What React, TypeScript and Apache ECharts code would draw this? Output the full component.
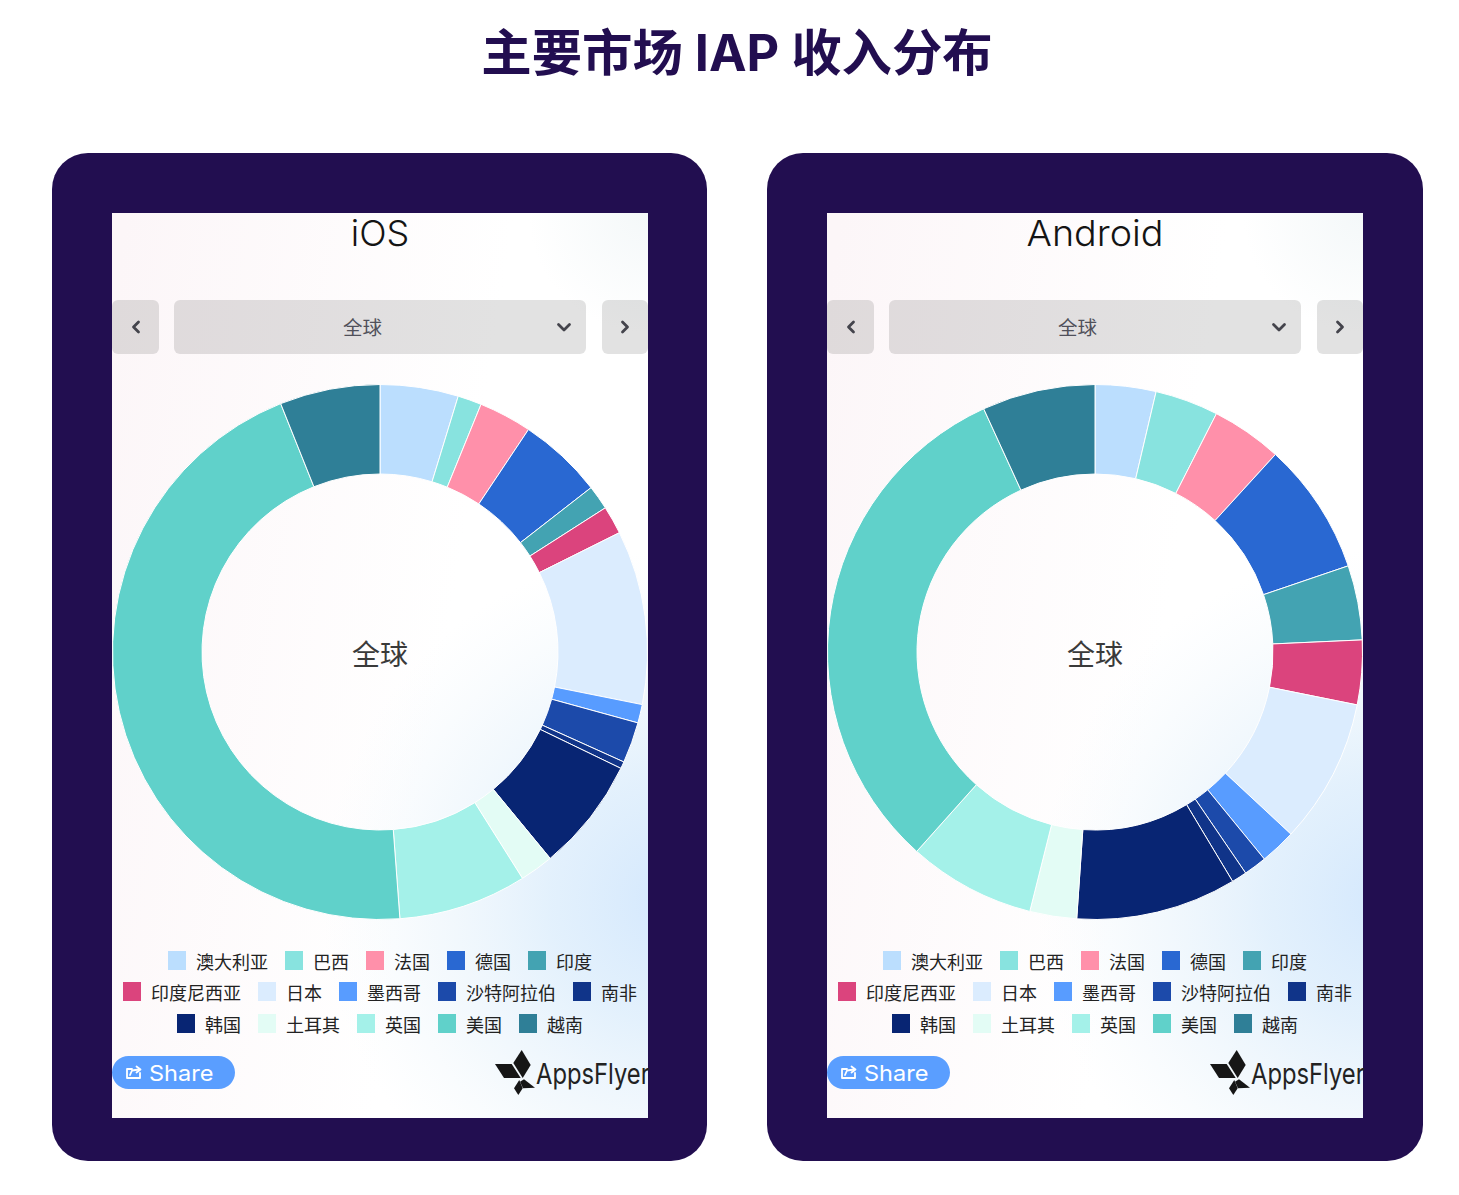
import React, { useEffect, useRef } from "react";
import * as echarts from "echarts";

const pageTitle = "主要市场 IAP 收入分布";
const markets = ["澳大利亚", "巴西", "法国", "德国", "印度", "印度尼西亚", "日本", "墨西哥", "沙特阿拉伯", "南非", "韩国", "土耳其", "英国", "美国", "越南"];
const colors = ["#bbdefe", "#88e3df", "#ff90aa", "#2968d2", "#43a3b2", "#db447d", "#dbecfe", "#589cff", "#1c4aaa", "#103489", "#082573", "#e3fcf5", "#a4f1e9", "#60d1ca", "#2f7f97"];
const iosValues = [4.72, 1.44, 3.2, 5.1, 1.47, 1.7, 10.5, 1.12, 2.47, 0.42, 6.86, 2.03, 7.75, 45.1, 6.05];
const androidValues = [3.67, 3.83, 4.28, 8.0, 4.5, 3.89, 8.75, 2.17, 1.39, 0.92, 9.69, 2.83, 7.69, 31.56, 6.83];
const legendRows = [markets.slice(0, 5), markets.slice(5, 10), markets.slice(10, 15)];
const centerLabel = "全球";

const FONT = "'Noto Sans CJK SC', sans-serif";
const LATIN = "Inter, 'Noto Sans CJK SC', sans-serif";
const INK = "#220e50";

function panelGraphics(dx: number, name: string, cx: number, nameScale: number) {
  const px = 112 + dx;
  const radial = (x: number, y: number, r: number, stops: [number, string][]) =>
    new echarts.graphic.RadialGradient(x, y, r, stops.map(([offset, color]) => ({ offset, color })), true);
  const panel = { x: px, y: 213, width: 536, height: 905 };
  const line = (points: number[][], stroke: string, lineWidth = 2.8) => ({
    type: "polyline",
    z: 3,
    shape: { points: points.map(([x, y]) => [x + dx, y]) },
    style: { fill: "none", stroke, lineWidth, lineCap: "round", lineJoin: "round" },
  });
  const kite = (points: number[][]) => ({
    type: "polygon",
    z: 3,
    shape: { points: points.map(([x, y]) => [x + dx, y]) },
    style: { fill: "#161616" },
  });
  const btn = (x: number, w: number) => ({
    type: "rect",
    z: 1,
    shape: { x: x + dx, y: 300, width: w, height: 54, r: 6 },
    style: { fill: "rgba(0,0,0,0.115)" },
  });
  const text = (x: number, y: number, t: string, fill: string, font: string, align: string, scaleX = 1) => ({
    type: "text",
    z: 3,
    x,
    y,
    scaleX,
    style: { x: 0, y: 0, text: t, fill, font, align, verticalAlign: "middle" },
  });
  return [
    { type: "rect", z: 0, shape: { x: 52 + dx, y: 153, width: dx ? 656 : 655, height: 1008, r: 36 }, style: { fill: INK } },
    {
      type: "rect",
      z: 0,
      shape: panel,
      style: {
        fill: new echarts.graphic.LinearGradient(
          px, 300, px + 380, 360,
          [{ offset: 0, color: "#fcf6f8" }, { offset: 1, color: "#ffffff" }],
          true
        ),
      },
    },
    { type: "rect", z: 0, shape: panel, style: { fill: radial(px + 536, 213, 120, [[0, "rgba(244,248,249,1)"], [1, "rgba(244,248,249,0)"]]) } },
    { type: "rect", z: 0, shape: panel, style: { fill: radial(px + 560, 900, 350, [[0, "rgba(212,232,253,1)"], [0.35, "rgba(222,238,252,0.85)"], [0.7, "rgba(232,243,251,0.45)"], [1, "rgba(240,247,252,0)"]]) } },
    btn(112, 47), btn(174, 412), btn(602, 46),
    line([[138.5, 322], [133.5, 327], [138.5, 332]], "#44444c"),
    line([[622.5, 322], [627.5, 327], [622.5, 332]], "#44444c"),
    line([[558.5, 324.5], [564, 330], [569.5, 324.5]], "#44444c"),
    text(362.5 + dx, 326, centerLabel, "#50505a", `19.5px ${FONT}`, "center"),
    text(cx, 233, name, "#141414", `300 36px ${LATIN}`, "center", nameScale),
    text(cx, 653, centerLabel, "#3a3a3a", `28px ${FONT}`, "center"),
    { type: "rect", z: 1, shape: { x: px, y: 1056, width: 123, height: 33, r: 16.5 }, style: { fill: "#5a9eff" } },
    line([[132, 1069], [127, 1069], [127, 1078], [140, 1078], [140, 1073]], "#ffffff", 1.8),
    line([[130, 1075], [132, 1070.5], [139, 1069.5]], "#ffffff", 1.8),
    line([[136.5, 1066.5], [140.5, 1069.5], [136.5, 1072.5]], "#ffffff", 1.8),
    text(149 + dx, 1073, "Share", "#ffffff", `400 22px ${LATIN}`, "left", 1.07),
    kite([[521.7, 1050], [530.7, 1065], [522.7, 1078], [513.3, 1063]]),
    kite([[495, 1064], [511.7, 1064], [520.7, 1078], [504, 1078]]),
    kite([[524, 1079.3], [535, 1087.7], [523, 1088.3], [520, 1081.7]]),
    kite([[519.3, 1080], [522.7, 1088.3], [518.3, 1095], [514, 1088.3]]),
    text(536 + dx, 1073, "AppsFlyer", "#222222", `400 29px ${LATIN}`, "left", 0.82),
  ];
}

function App() {
  const ref = useRef<HTMLDivElement>(null);
  useEffect(() => {
    const chart = echarts.init(ref.current!, undefined, { renderer: "svg" });
    const rowStarts = [168, 123, 177];
    const rowTops = [951, 982, 1014];
    const legends: any[] = [];
    [0, 715].forEach((dx) =>
      legendRows.forEach((row, i) =>
        legends.push({
          data: row,
          left: rowStarts[i] + dx,
          top: rowTops[i],
          orient: "horizontal",
          itemWidth: 18,
          itemHeight: 19,
          itemGap: 17,
          icon: "rect",
          selectedMode: false,
          padding: 0,
          itemStyle: { borderWidth: 0 },
          textStyle: { fontFamily: FONT, fontSize: 18, color: "#222222", padding: [0, 0, 8, 5] },
        })
      )
    );
    const pie = (cx: number, values: number[], name: string) => ({
      type: "pie",
      name,
      center: [cx, 652],
      radius: [178, 267.5],
      startAngle: 90,
      clockwise: true,
      label: { show: false },
      labelLine: { show: false },
      silent: true,
      itemStyle: { borderColor: "#ffffff", borderWidth: 1 },
      data: markets.map((m, i) => ({ name: m, value: values[i], itemStyle: { color: colors[i] } })),
    });
    chart.setOption({
      animation: false,
      backgroundColor: "#ffffff",
      color: colors,
      title: {
        text: pageTitle,
        left: 737,
        top: 52,
        textAlign: "center",
        textVerticalAlign: "middle",
        padding: 0,
        textStyle: { fontFamily: LATIN, fontWeight: 700, fontSize: 50.4, color: INK },
      },
      legend: legends,
      series: [pie(380, iosValues, "iOS"), pie(1095, androidValues, "Android")],
      graphic: [...panelGraphics(0, "iOS", 380, 1), ...panelGraphics(715, "Android", 1095, 1.047)],
    });
    return () => chart.dispose();
  }, []);
  return <div ref={ref} style={{ position: "fixed", left: 0, top: 0, width: 1459, height: 1195 }} />;
}

export default App;
